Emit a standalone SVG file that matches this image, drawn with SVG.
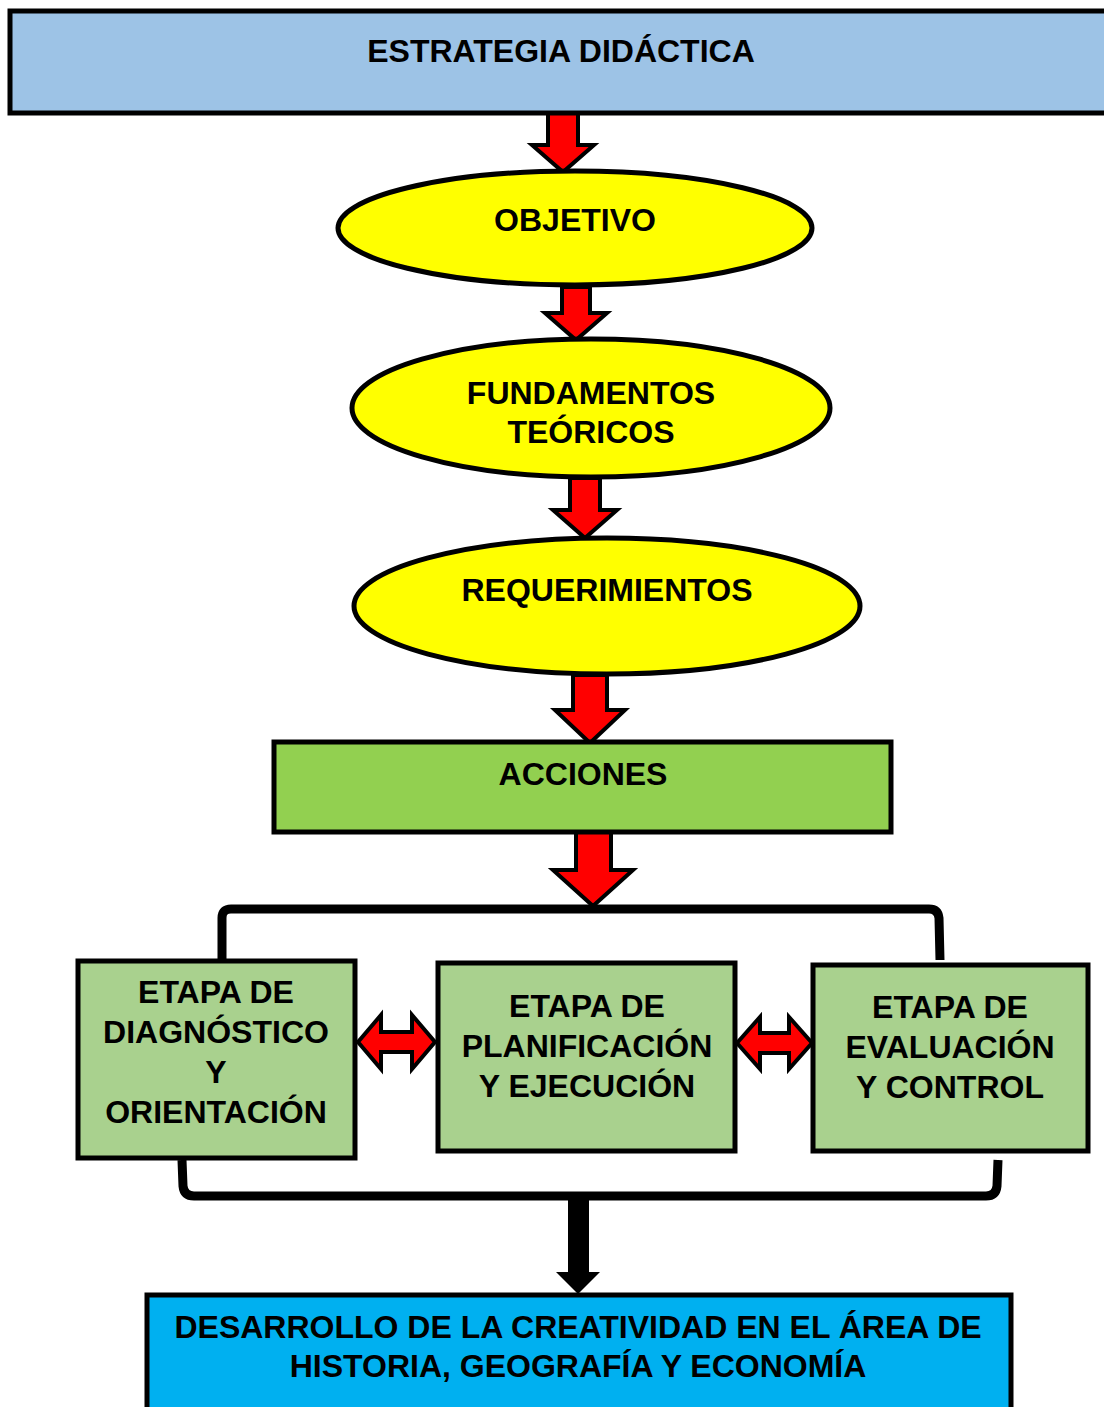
<svg xmlns="http://www.w3.org/2000/svg" width="1104" height="1407" viewBox="0 0 1104 1407">
<style>
.t{font-family:"Liberation Sans",Arial,sans-serif;font-weight:bold;font-size:32px;fill:#000;text-anchor:middle}
.b{stroke:#000;stroke-width:5}
.ra{fill:#FF0000;stroke:#000;stroke-width:4;stroke-linejoin:miter}
.br{fill:none;stroke:#000;stroke-width:9}
</style>
<rect width="1104" height="1407" fill="#fff"/>
<g id="connectors">
<path class="ra" d="M548,113 V145 H532 L563,172 L594,145 H578 V113 Z"/>
<path class="ra" d="M562,287 V313 H545 L576,340 L607,313 H590 V287 Z"/>
<path class="ra" d="M570,478 V510 H553 L585,538 L617,510 H600 V478 Z"/>
<path class="ra" d="M573,675 V710 H555 L590,743 L625,710 H607 V675 Z"/>
<path class="ra" d="M576,832 V870 H553 L593,906 L633,870 H611 V832 Z"/>
<path class="br" d="M222,960 V918 Q222,909 231,909 H929 Q938,909 939,918 L940,960"/>
<path class="ra" d="M358,1042 L381,1015 V1032 H412 V1015 L435,1042 L412,1069 V1052 H381 V1069 Z"/>
<path class="ra" d="M737,1043 L760,1017 V1033 H789 V1017 L812,1043 L789,1069 V1053 H760 V1069 Z"/>
<path class="br" d="M182,1160 L183,1186 Q184,1196 194,1196 H986 Q996,1196 997,1186 L998,1160"/>
<path fill="#000" d="M568,1196 H589 V1272 H600 L578,1294 L556,1272 H568 Z"/>
</g>
<g id="estrategia">
<rect class="b" x="10" y="11" width="1100" height="102" fill="#9DC3E6"/>
<text class="t" x="561" y="62">ESTRATEGIA DIDÁCTICA</text>
</g>
<g id="objetivo">
<ellipse class="b" cx="575" cy="228" rx="237" ry="57" fill="#FFFF00"/>
<text class="t" x="575" y="231">OBJETIVO</text>
</g>
<g id="fundamentos">
<ellipse class="b" cx="591" cy="408" rx="239" ry="69" fill="#FFFF00"/>
<text class="t" x="591" y="404">FUNDAMENTOS</text>
<text class="t" x="591" y="443">TEÓRICOS</text>
</g>
<g id="requerimientos">
<ellipse class="b" cx="607" cy="606" rx="253" ry="68" fill="#FFFF00"/>
<text class="t" x="607" y="601">REQUERIMIENTOS</text>
</g>
<g id="acciones">
<rect class="b" x="274" y="742" width="617" height="90" fill="#92D050"/>
<text class="t" x="583" y="785">ACCIONES</text>
</g>
<g id="diagnostico">
<rect class="b" x="78" y="961" width="277" height="197" fill="#A9D18E"/>
<text class="t" x="216" y="1003">ETAPA DE</text>
<text class="t" x="216" y="1043">DIAGNÓSTICO</text>
<text class="t" x="216" y="1083">Y</text>
<text class="t" x="216" y="1123">ORIENTACIÓN</text>
</g>
<g id="planificacion">
<rect class="b" x="438" y="963" width="297" height="188" fill="#A9D18E"/>
<text class="t" x="587" y="1017">ETAPA DE</text>
<text class="t" x="587" y="1057">PLANIFICACIÓN</text>
<text class="t" x="587" y="1097">Y EJECUCIÓN</text>
</g>
<g id="evaluacion">
<rect class="b" x="813" y="965" width="275" height="186" fill="#A9D18E"/>
<text class="t" x="950" y="1018">ETAPA DE</text>
<text class="t" x="950" y="1058">EVALUACIÓN</text>
<text class="t" x="950" y="1098">Y CONTROL</text>
</g>
<g id="desarrollo">
<rect class="b" x="147" y="1295" width="864" height="120" fill="#00B0F0"/>
<text class="t" x="578" y="1338">DESARROLLO DE LA CREATIVIDAD EN EL ÁREA DE</text>
<text class="t" x="578" y="1377">HISTORIA, GEOGRAFÍA Y ECONOMÍA</text>
</g>
</svg>
